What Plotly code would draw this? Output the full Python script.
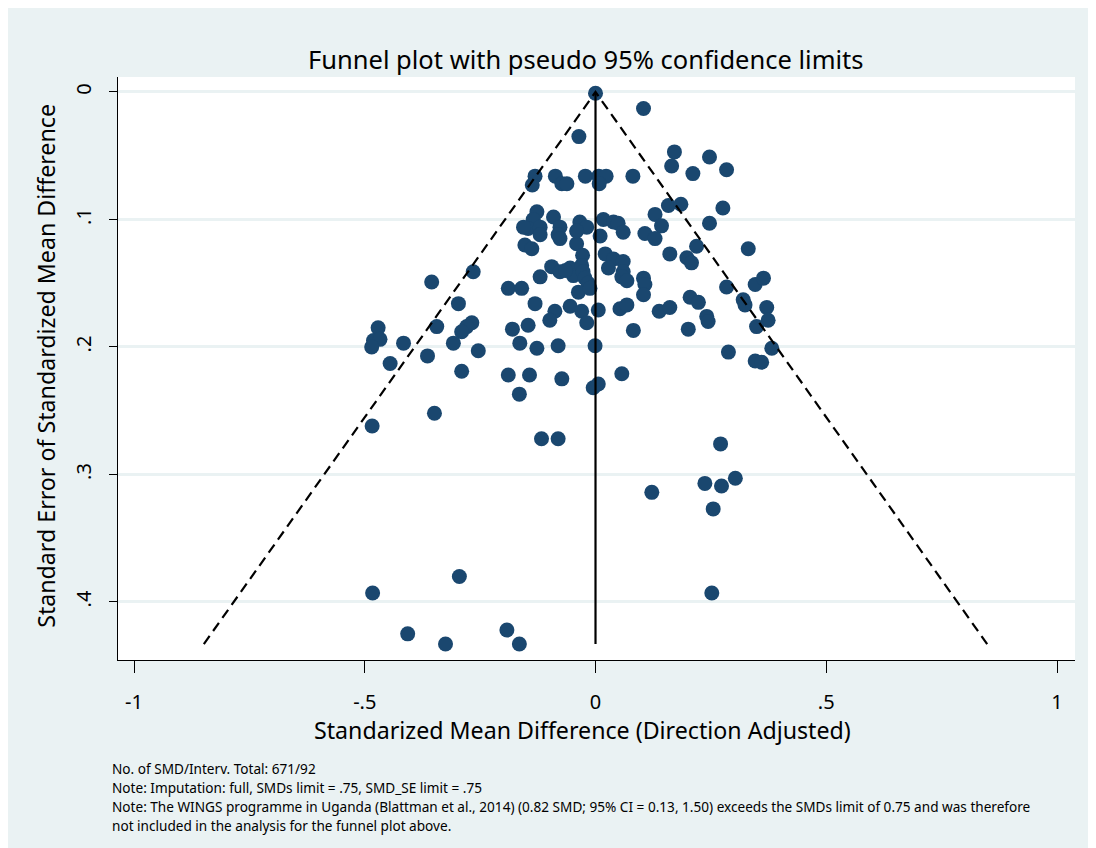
import plotly.graph_objects as go

# Standardized mean difference (direction adjusted) and its standard error
smd = [
    0.000, 0.104, -0.036, 0.171, 0.247, 0.165, 0.211, 0.284, -0.131, -0.137,
    -0.087, -0.073, -0.062, -0.022, 0.007, 0.023, 0.008, 0.081, 0.158, 0.185,
    0.276, 0.129, 0.143, 0.247, -0.127, -0.135, -0.146, -0.120, -0.091, -0.077,
    -0.081, -0.034, -0.019, 0.010, 0.017, 0.039, 0.049, 0.060, 0.107, 0.129,
    -0.120, -0.077, -0.041, -0.153, -0.138, -0.041, 0.219, 0.331, 0.161, -0.028,
    0.021, 0.039, 0.060, 0.028, 0.060, 0.057, 0.068, 0.198, 0.208, -0.095,
    -0.077, -0.055, -0.048, -0.030, -0.027, -0.023, -0.016, -0.037, -0.012, -0.065,
    -0.120, 0.104, 0.107, 0.104, -0.355, -0.265, -0.189, -0.160, -0.297, -0.131,
    -0.055, -0.088, -0.099, -0.030, -0.019, 0.006, 0.053, 0.068, 0.138, 0.161,
    0.205, 0.223, 0.284, 0.346, 0.364, 0.320, 0.324, 0.371, 0.374, 0.349,
    0.241, 0.244, 0.201, 0.082, -0.344, -0.268, -0.279, -0.290, -0.308, -0.254,
    -0.471, -0.481, -0.467, -0.485, -0.416, -0.445, -0.364, -0.290, -0.180, -0.146,
    -0.164, -0.127, -0.081, -0.001, -0.189, -0.143, -0.073, 0.057, -0.165, -0.005,
    0.006, 0.288, 0.346, 0.360, 0.382, -0.484, -0.349, -0.117, -0.081, 0.271,
    0.237, 0.273, 0.303, 0.122, 0.255, -0.295, -0.483, 0.252, -0.407, -0.325,
    -0.192, -0.165, -0.156,
]
se = [
    0.001, 0.013, 0.035, 0.047, 0.051, 0.058, 0.064, 0.061, 0.066, 0.073,
    0.066, 0.072, 0.072, 0.066, 0.066, 0.066, 0.072, 0.066, 0.089, 0.088,
    0.091, 0.096, 0.105, 0.103, 0.094, 0.100, 0.107, 0.106, 0.098, 0.106,
    0.112, 0.102, 0.106, 0.113, 0.100, 0.102, 0.103, 0.110, 0.111, 0.115,
    0.112, 0.115, 0.119, 0.120, 0.123, 0.109, 0.121, 0.123, 0.127, 0.128,
    0.127, 0.131, 0.133, 0.138, 0.141, 0.145, 0.148, 0.130, 0.134, 0.137,
    0.141, 0.138, 0.144, 0.136, 0.141, 0.146, 0.150, 0.157, 0.154, 0.140,
    0.145, 0.146, 0.151, 0.159, 0.149, 0.141, 0.154, 0.154, 0.166, 0.166,
    0.168, 0.172, 0.179, 0.172, 0.181, 0.171, 0.170, 0.167, 0.172, 0.169,
    0.161, 0.165, 0.153, 0.151, 0.146, 0.163, 0.167, 0.169, 0.179, 0.184,
    0.176, 0.180, 0.186, 0.187, 0.184, 0.181, 0.184, 0.188, 0.197, 0.203,
    0.185, 0.195, 0.194, 0.200, 0.197, 0.213, 0.207, 0.219, 0.186, 0.183,
    0.197, 0.201, 0.199, 0.199, 0.222, 0.222, 0.225, 0.221, 0.237, 0.232,
    0.229, 0.204, 0.211, 0.212, 0.201, 0.262, 0.252, 0.272, 0.272, 0.276,
    0.307, 0.309, 0.303, 0.314, 0.327, 0.380, 0.393, 0.393, 0.425, 0.433,
    0.422, 0.433, 0.106,
]

pooled_smd = 0.0
se_max = 0.433
z95 = 1.96

x_ticks = [-1, -0.5, 0, 0.5, 1]
x_tick_labels = ["-1", "-.5", "0", ".5", "1"]
y_ticks = [0, 0.1, 0.2, 0.3, 0.4]
y_tick_labels = ["0", ".1", ".2", ".3", ".4"]

title_text = "Funnel plot with pseudo 95% confidence limits"
x_title = "Standarized Mean Difference (Direction Adjusted)"
y_title = "Standard Error of Standardized Mean Difference"
notes = [
    "No. of SMD/Interv. Total: 671/92",
    "Note: Imputation: full, SMDs limit = .75, SMD_SE limit = .75",
    "Note: The WINGS programme in Uganda (Blattman et al., 2014) (0.82 SMD; 95% CI = 0.13, 1.50) exceeds the SMDs limit of 0.75 and was therefore",
    "not included in the analysis for the funnel plot above.",
]

BG = "#EAF2F3"
NAVY = "#1A476F"
FONT = "Noto Sans"

fig = go.Figure()
fig.add_trace(go.Scatter(
    x=smd, y=se, mode="markers",
    marker=dict(color=NAVY, size=15, line=dict(width=0)),
    showlegend=False, hoverinfo="x+y",
))
# pseudo 95% confidence limits
fig.add_trace(go.Scatter(
    x=[pooled_smd - z95 * se_max, pooled_smd, pooled_smd + z95 * se_max],
    y=[se_max, 0, se_max],
    mode="lines", line=dict(color="black", width=2.2, dash="10px,6px"),
    showlegend=False, hoverinfo="skip",
))
fig.add_trace(go.Scatter(
    x=[pooled_smd, pooled_smd], y=[0, se_max],
    mode="lines", line=dict(color="black", width=2.2),
    showlegend=False, hoverinfo="skip",
))

fig.add_annotation(text=title_text, xref="paper", yref="paper", x=0.488, y=1.031,
                   xanchor="center", yanchor="middle", showarrow=False,
                   font=dict(family=FONT, size=25.5, color="black"))
fig.add_annotation(text=x_title, xref="paper", yref="paper", x=0.485, y=-0.12,
                   xanchor="center", yanchor="middle", showarrow=False,
                   font=dict(family=FONT, size=23.2, color="black"))
fig.add_annotation(text=y_title, xref="paper", yref="paper", x=-0.076, y=0.505,
                   xanchor="center", yanchor="middle", showarrow=False, textangle=-90,
                   font=dict(family=FONT, size=23.2, color="black"))
for i, line in enumerate(notes):
    fig.add_annotation(text=line, xref="paper", yref="paper", x=-0.0084,
                       y=(660 - 768 - 19.3 * i) / 583.0,
                       xanchor="left", yanchor="middle", showarrow=False,
                       font=dict(family=FONT, size=13.6, color="black"))

fig.update_layout(
    width=1080, height=840,
    margin=dict(l=110, r=13, t=69, b=188),
    paper_bgcolor=BG, plot_bgcolor="white",
    font=dict(family=FONT, color="black"),
    xaxis=dict(range=[-1.0347, 1.039], tickvals=x_ticks, ticktext=x_tick_labels,
               showgrid=False, zeroline=False, showline=True, linecolor="black",
               linewidth=1, ticks="outside", ticklen=12, tickwidth=1, tickcolor="black",
               tickfont=dict(family=FONT, size=20), ticklabelstandoff=12),
    yaxis=dict(range=[0.4455, -0.01176], tickvals=y_ticks, ticktext=y_tick_labels,
               showgrid=True, gridcolor=BG, gridwidth=2.5, zeroline=False,
               showline=True, linecolor="black", linewidth=1, ticks="outside",
               ticklen=8, tickwidth=1, tickcolor="black", tickangle=-90,
               tickfont=dict(family=FONT, size=20), ticklabelstandoff=10),
)

fig.write_html("out.html")
